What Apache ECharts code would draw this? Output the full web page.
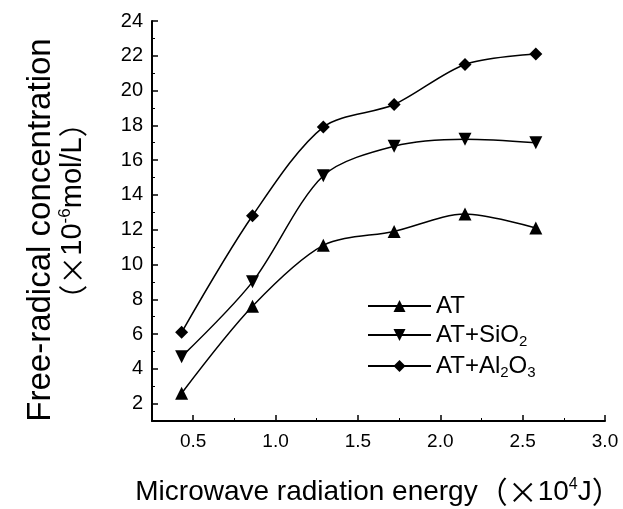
<!DOCTYPE html>
<html>
<head>
<meta charset="utf-8">
<script src="https://cdn.jsdelivr.net/npm/echarts@6/dist/echarts.min.js"></script>
<style>
  html, body { margin: 0; padding: 0; background: #fff; }
  #chart { width: 623px; height: 509px; }
</style>
</head>
<body>
<div id="chart"></div>
<script>
// energy (x10^4 J)
const xValues = [0.43, 0.86, 1.29, 1.72, 2.15, 2.58];
// free-radical concentration (x10^-6 mol/L)
const atValues = [2.6, 7.6, 11.1, 11.9, 12.9, 12.1];
const atSiO2Values = [4.7, 9.0, 15.1, 16.8, 17.2, 17.0];
const atAl2O3Values = [6.1, 12.8, 17.9, 19.2, 21.5, 22.1];

const seriesNames = ["AT", "AT+SiO2", "AT+Al2O3"];
const xTickLabels = [0.5, 1.0, 1.5, 2.0, 2.5, 3.0];
const xMinorTicks = [0.75, 1.25, 1.75, 2.25, 2.75];
const yTickLabels = [2, 4, 6, 8, 10, 12, 14, 16, 18, 20, 22, 24];
const yMinorTicks = [3, 5, 7, 9, 11, 13, 15, 17, 19, 21, 23];

const chart = echarts.init(document.getElementById("chart"), null, { renderer: "canvas" });

const font = "'Liberation Sans', Arial, sans-serif";
const cjk = "'Noto Sans CJK SC', sans-serif";

function pairs(vals) {
  return xValues.map((x, i) => [x, vals[i]]);
}

function legendLabel(name) {
  if (name === "AT+SiO2") return "{b|AT+SiO}{s|2}";
  if (name === "AT+Al2O3") return "{b|AT+Al}{s|2}{b|O}{s|3}";
  return "{b|" + name + "}";
}

const lineSeries = (name, vals, symbol) => ({
  name: name,
  type: "line",
  data: pairs(vals),
  smooth: 0.3,
  symbol: symbol,
  symbolSize: 13,
  showSymbol: true,
  lineStyle: { color: "#000", width: 1.5 },
  itemStyle: { color: "#000" },
  emphasis: { disabled: true },
});

// second, label-less axes only carry the short minor ticks
const minorAxis = (ticks, extra) => Object.assign({
  type: "value",
  interval: 1,
  splitLine: { show: false },
  axisLine: { show: false },
  axisTick: {
    inside: true,
    length: 3,
    customValues: ticks,
    lineStyle: { color: "#000", width: 1 },
  },
  axisLabel: { show: false },
}, extra);

const option = {
  animation: false,
  backgroundColor: "#fff",
  textStyle: { fontFamily: font, color: "#000" },
  grid: {
    left: 152,
    right: 18,
    top: 21,
    bottom: 88,
    containLabel: false,
    outerBoundsMode: "none",
  },
  legend: {
    orient: "vertical",
    left: 362,
    top: 289,
    itemWidth: 63,
    itemHeight: 15,
    itemGap: 5,
    data: seriesNames,
    formatter: legendLabel,
    textStyle: {
      color: "#000",
      fontFamily: font,
      fontSize: 24,
      rich: {
        b: { fontSize: 24, fontFamily: font, color: "#000" },
        s: { fontSize: 15, fontFamily: font, color: "#000", padding: [13, 0, 0, 0] },
      },
    },
  },
  xAxis: [
    {
      type: "value",
      min: 0.25,
      max: 3.0,
      interval: 0.25,
      splitLine: { show: false },
      axisLine: { lineStyle: { color: "#000", width: 2 } },
      axisTick: {
        inside: true,
        length: 6,
        customValues: xTickLabels,
        lineStyle: { color: "#000", width: 1.5 },
      },
      axisLabel: {
        customValues: xTickLabels,
        formatter: (v) => v.toFixed(1),
        fontSize: 19,
        color: "#000",
        fontFamily: font,
        margin: 11,
      },
      name: "{t|Microwave radiation energy}{c|（×}{p|10}{sup|4}{p|J}{c|）}",
      nameLocation: "middle",
      nameGap: 56,
      nameTextStyle: {
        fontSize: 28,
        rich: {
          t: { fontSize: 28, fontFamily: font, color: "#000" },
          p: { fontSize: 28, fontFamily: font, color: "#000" },
          c: { fontSize: 30, fontFamily: cjk, color: "#000" },
          sup: { fontSize: 16, fontFamily: font, color: "#000", padding: [0, 0, 14, 0] },
        },
      },
    },
    minorAxis(xMinorTicks, { min: 0.25, max: 3.0, interval: 0.25, position: "bottom" }),
  ],
  yAxis: [
    {
      type: "value",
      min: 1,
      max: 24,
      interval: 1,
      splitLine: { show: false },
      axisLine: { lineStyle: { color: "#000", width: 2 } },
      axisTick: {
        inside: true,
        length: 6,
        customValues: yTickLabels,
        lineStyle: { color: "#000", width: 1.5 },
      },
      axisLabel: {
        customValues: yTickLabels,
        fontSize: 20,
        color: "#000",
        fontFamily: font,
        margin: 9,
      },
      name: "Free-radical concentration",
      nameLocation: "middle",
      nameRotate: 90,
      nameGap: 95,
      nameTextStyle: { fontSize: 33, fontFamily: font, color: "#000", padding: [0, 18, 0, 0] },
    },
    minorAxis(yMinorTicks, {
      min: 1,
      max: 24,
      position: "left",
      name: "{c|（×}{p|10}{sup|-6}{p|mol/L}{c|）}",
      nameLocation: "middle",
      nameRotate: 90,
      nameGap: 63,
      nameTextStyle: {
        fontSize: 29,
        fontFamily: font,
        color: "#000",
        padding: [0, 0, 0, 20],
        rich: {
          p: { fontSize: 29, fontFamily: font, color: "#000" },
          c: { fontSize: 29, fontFamily: cjk, color: "#000" },
          sup: { fontSize: 17, fontFamily: font, color: "#000", padding: [0, 0, 15, 0] },
        },
      },
    }),
  ],
  series: [
    lineSeries(seriesNames[0], atValues, "triangle"),
    lineSeries(seriesNames[1], atSiO2Values, "path://M0,0L10,0L5,9Z"),
    lineSeries(seriesNames[2], atAl2O3Values, "diamond"),
  ],
};

chart.setOption(option);
</script>
</body>
</html>
